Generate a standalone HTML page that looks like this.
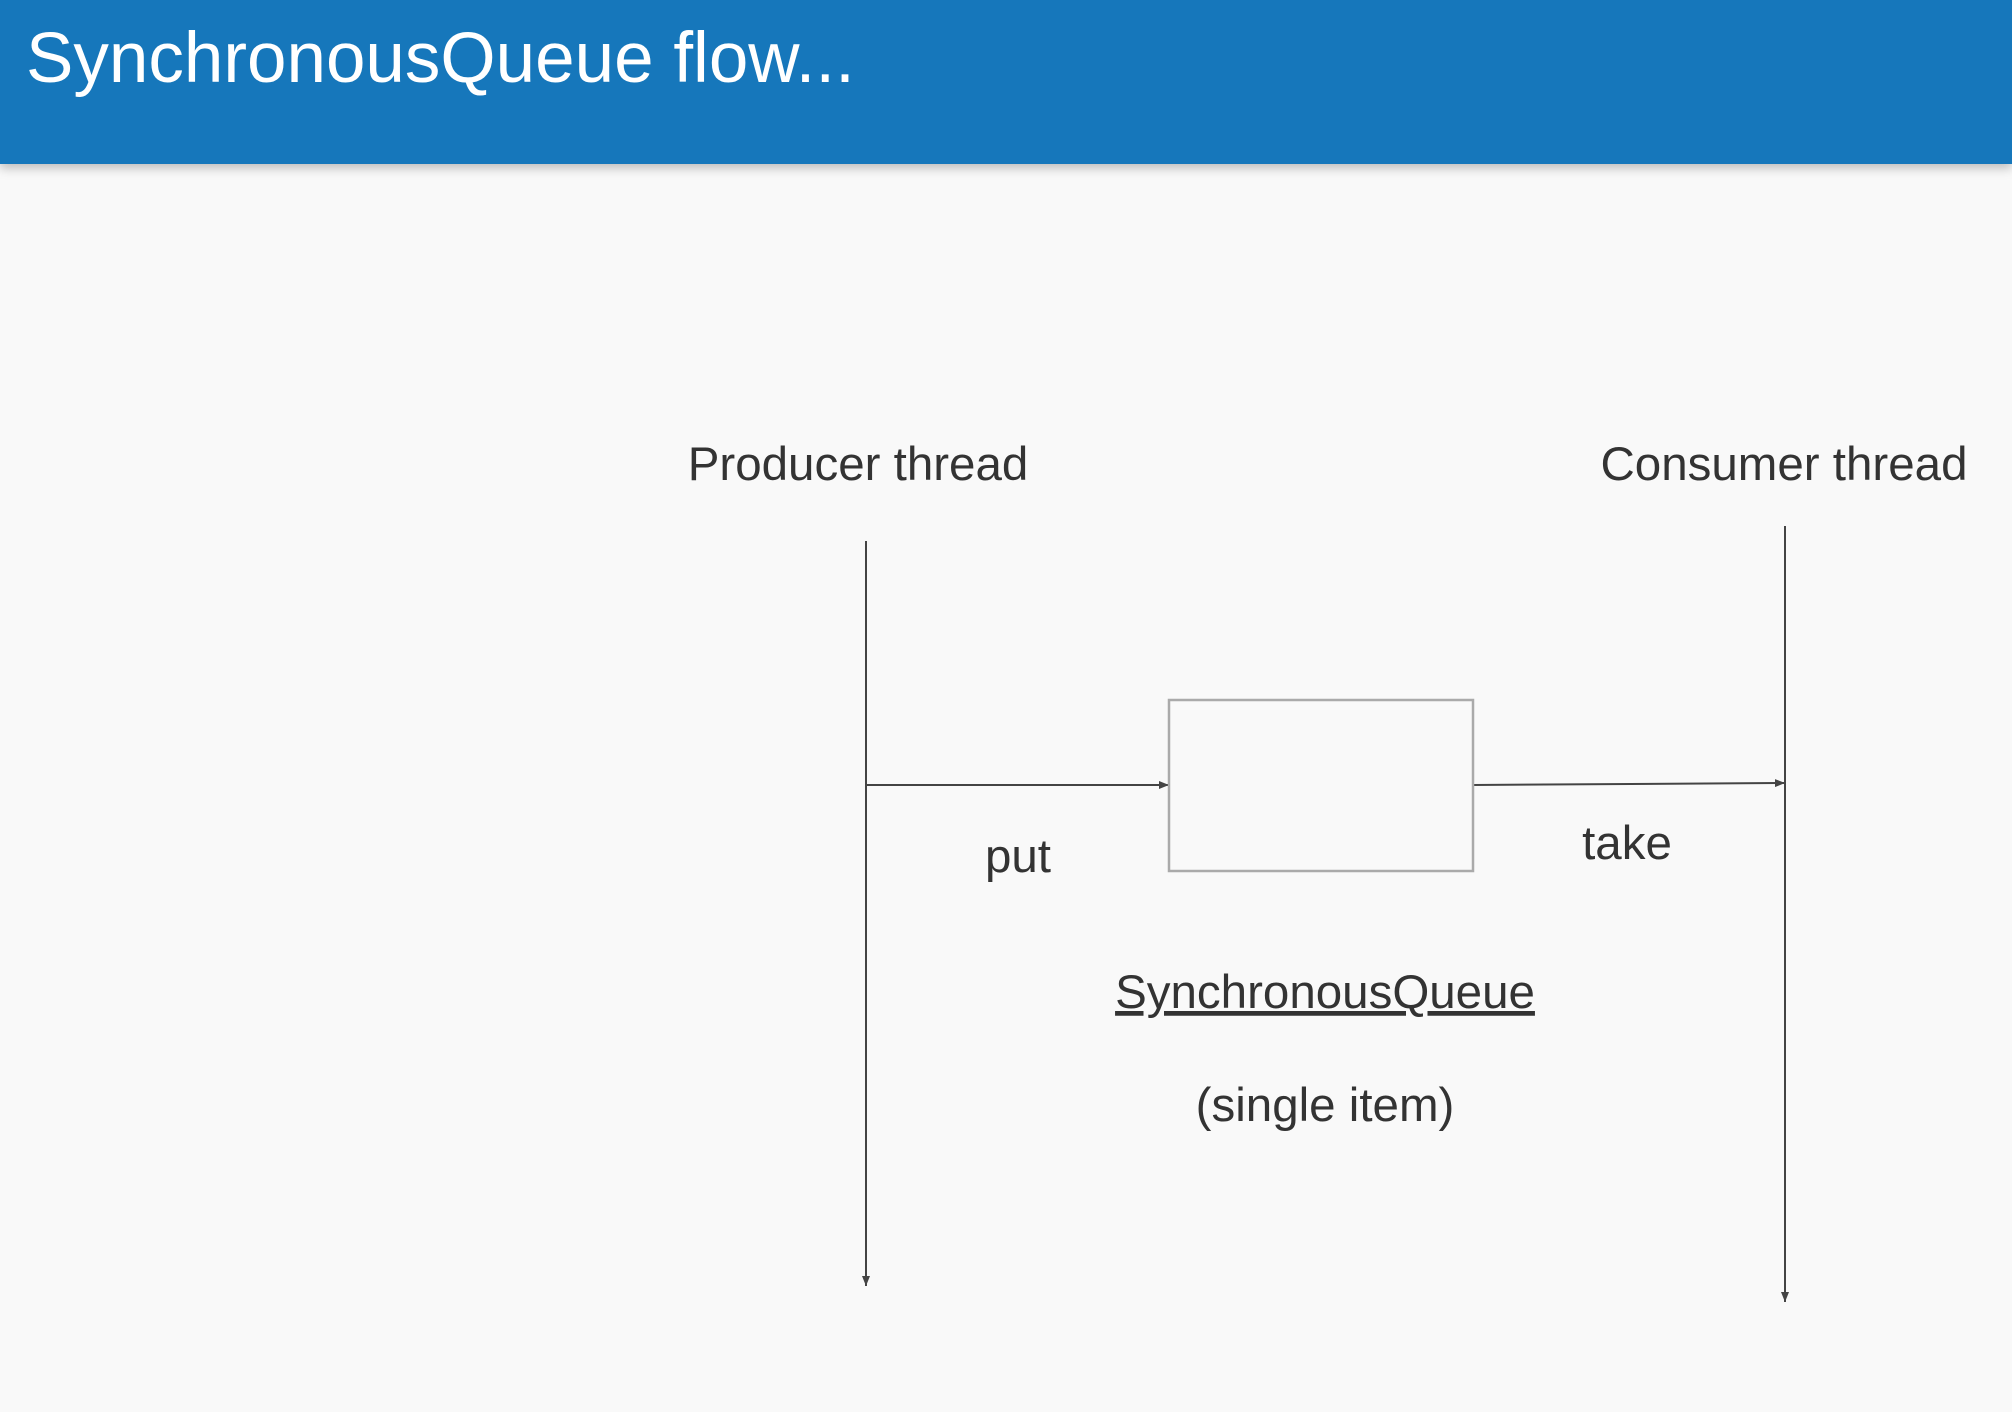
<!DOCTYPE html>
<html><head><meta charset="utf-8"><style>
html,body{margin:0;padding:0;}
body{width:2012px;height:1412px;background:#f9f9f9;overflow:hidden;position:relative;font-family:"Liberation Sans",sans-serif;}
.hdr{position:absolute;left:0;top:0;width:2012px;height:164px;background:#1677bb;box-shadow:0 4px 10px rgba(0,0,0,0.25);}
.hdr span{position:absolute;left:26px;top:18px;color:#fff;font-size:71px;}
svg{position:absolute;left:0;top:0;}
</style></head><body>
<div class="hdr"><span>SynchronousQueue flow...</span></div>
<svg width="2012" height="1412" font-family="Liberation Sans, sans-serif" fill="#333">
<defs><marker id="a" markerWidth="10" markerHeight="8" refX="10" refY="4" orient="auto" markerUnits="userSpaceOnUse"><path d="M0,0 L10,4 L0,8 z" fill="#444"/></marker></defs>
<g stroke="#444" stroke-width="2">
<line x1="866" y1="541" x2="866" y2="1286" marker-end="url(#a)"/>
<line x1="1785" y1="526" x2="1785" y2="1302" marker-end="url(#a)"/>
<line x1="866" y1="785" x2="1169" y2="785" marker-end="url(#a)"/>
<line x1="1473" y1="785" x2="1785" y2="783" marker-end="url(#a)"/>
</g>
<rect x="1169" y="700" width="304" height="171" fill="none" stroke="#aaa" stroke-width="2.5"/>
<g font-size="47.5" text-anchor="middle">
<text x="858" y="480">Producer thread</text>
<text x="1784" y="480">Consumer thread</text>
<text x="1018" y="872">put</text>
<text x="1627" y="859">take</text>
<text x="1325" y="1008" text-decoration="underline">SynchronousQueue</text>
<text x="1325" y="1121">(single item)</text>
</g>
</svg>
</body></html>
